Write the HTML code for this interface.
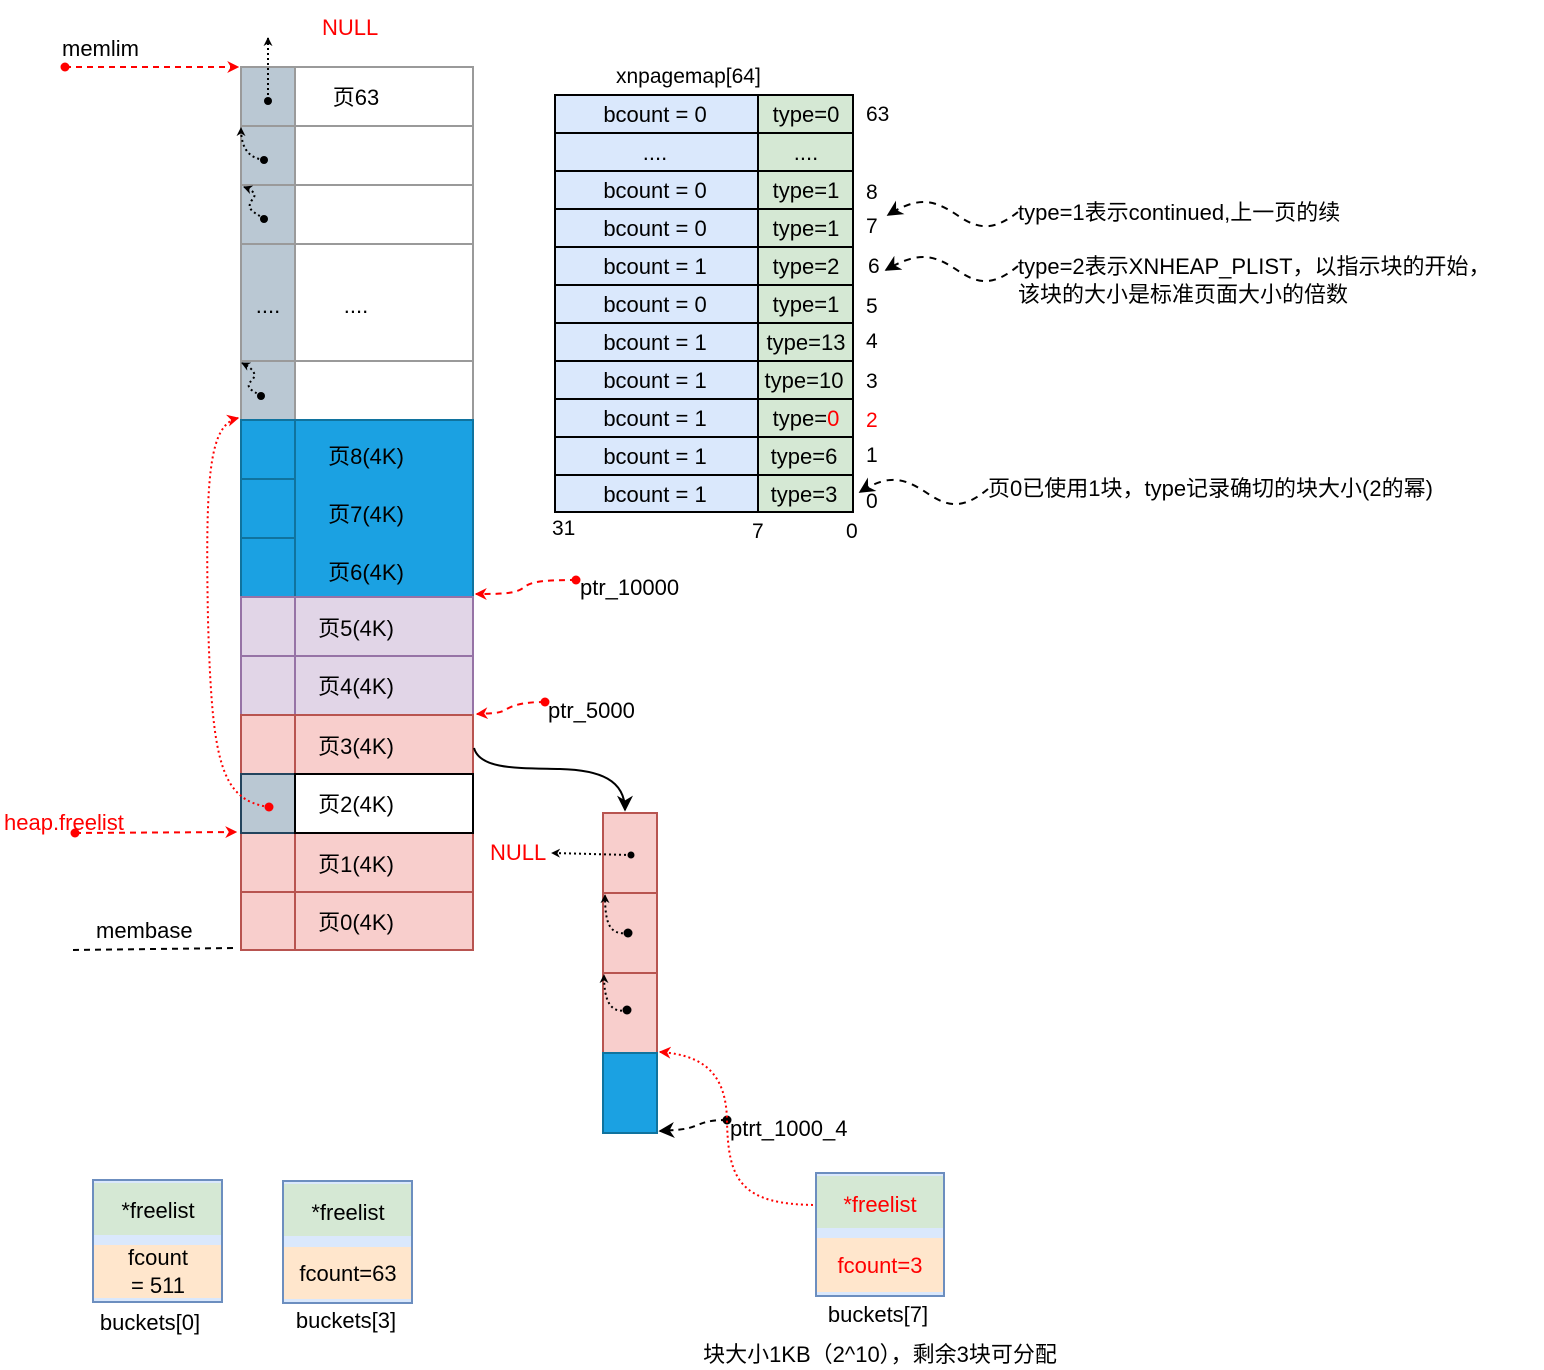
<!DOCTYPE html>
<html><head><meta charset="utf-8"><style>
html,body{margin:0;padding:0;background:#fff;}
svg{display:block;font-family:"Liberation Sans","Noto Sans CJK SC",sans-serif;}
</style></head><body>
<svg width="1544" height="1370" viewBox="0 0 1544 1370" xmlns="http://www.w3.org/2000/svg">
<defs>
<marker id="ab" viewBox="0 0 10 10" refX="9" refY="5" markerWidth="9" markerHeight="9" orient="auto-start-reverse" markerUnits="userSpaceOnUse"><path d="M0,0 L10,5 L0,10 L3,5 z" fill="#000"/></marker>
<marker id="ar" viewBox="0 0 10 10" refX="9" refY="5" markerWidth="12" markerHeight="12" orient="auto" markerUnits="userSpaceOnUse"><path d="M0,0 L10,5 L0,10 L3,5 z" fill="#f00"/></marker>
<marker id="abig" viewBox="0 0 10 10" refX="9" refY="5" markerWidth="16" markerHeight="16" orient="auto" markerUnits="userSpaceOnUse"><path d="M0,0 L10,5 L0,10 L3,5 z" fill="#000"/></marker>
</defs>

<!-- left memory column -->
<g stroke="#9a9a9a" stroke-width="2">
<rect x="241" y="67" width="54" height="353" fill="#bac8d3"/>
<rect x="295" y="67" width="178" height="59" fill="#fff"/>
<rect x="295" y="126" width="178" height="59" fill="#fff"/>
<rect x="295" y="185" width="178" height="59" fill="#fff"/>
<rect x="295" y="244" width="178" height="117" fill="#fff"/>
<rect x="295" y="361" width="178" height="59" fill="#fff"/>
<line x1="241" y1="126" x2="295" y2="126"/><line x1="241" y1="185" x2="295" y2="185"/>
<line x1="241" y1="244" x2="295" y2="244"/><line x1="241" y1="361" x2="295" y2="361"/>
</g>
<g stroke="#10739e" stroke-width="2" fill="#1ba1e2">
<rect x="241" y="420" width="232" height="177"/>
<rect x="241" y="420" width="54" height="59"/><rect x="241" y="479" width="54" height="59"/><rect x="241" y="538" width="54" height="59"/>
</g>
<g stroke="#9673a6" stroke-width="2" fill="#e1d5e7">
<rect x="241" y="597" width="54" height="59"/><rect x="295" y="597" width="178" height="59"/>
<rect x="241" y="656" width="54" height="59"/><rect x="295" y="656" width="178" height="59"/>
</g>
<g stroke="#b85450" stroke-width="2" fill="#f8cecc">
<rect x="241" y="715" width="54" height="59"/><rect x="295" y="715" width="178" height="59"/>
<rect x="241" y="833" width="54" height="59"/><rect x="295" y="833" width="178" height="59"/>
<rect x="241" y="892" width="54" height="58"/><rect x="295" y="892" width="178" height="58"/>
</g>
<rect x="241" y="774" width="54" height="59" fill="#bac8d3" stroke="#23445d" stroke-width="2"/>
<rect x="295" y="774" width="178" height="59" fill="#fff" stroke="#000" stroke-width="2"/>

<g font-size="22" fill="#000" text-anchor="middle">
<text x="356" y="105">页63</text>
<text x="268" y="313">....</text><text x="356" y="313">....</text>
<text x="366" y="464">页8(4K)</text><text x="366" y="522">页7(4K)</text><text x="366" y="580">页6(4K)</text>
<text x="356" y="636">页5(4K)</text><text x="356" y="694">页4(4K)</text><text x="356" y="754">页3(4K)</text>
<text x="356" y="812">页2(4K)</text><text x="356" y="872">页1(4K)</text><text x="356" y="930">页0(4K)</text>
</g>

<!-- dotted chain arrows in grey column -->
<g stroke="#000" stroke-width="2" stroke-dasharray="2 3" fill="none">
<path d="M268,100 L268,38" marker-end="url(#ab)"/>
<path d="M264,160 C250,158 241,150 241,128" marker-end="url(#ab)"/>
<path d="M264,219 C255,212 245,210 252,200 C258,194 252,190 244,187" marker-end="url(#ab)"/>
<path d="M261,396 C252,390 244,388 252,380 C258,374 252,368 242,363" marker-end="url(#ab)"/>
</g>
<g fill="#000"><circle cx="268" cy="101" r="4"/><circle cx="264" cy="160" r="4"/><circle cx="264" cy="219" r="4"/><circle cx="261" cy="396" r="4"/></g>
<text x="322" y="35" font-size="22" fill="#f00">NULL</text>

<!-- memlim -->
<text x="62" y="56" font-size="22">memlim</text>
<path d="M65,67 L238,67" stroke="#f00" stroke-width="2" stroke-dasharray="6 5" fill="none" marker-end="url(#ar)"/>
<circle cx="65" cy="67" r="4.5" fill="#f00"/>

<!-- heap.freelist -->
<text x="4" y="830" font-size="22" fill="#f00">heap.freelist</text>
<path d="M75,833 L236,832" stroke="#f00" stroke-width="2" stroke-dasharray="6 5" fill="none" marker-end="url(#ar)"/>
<circle cx="75" cy="833" r="4.5" fill="#f00"/>
<path d="M269,807 C220,800 212,760 208,620 C205,470 210,425 238,418" stroke="#f00" stroke-width="2" stroke-dasharray="2 3" fill="none" marker-end="url(#ar)"/>
<circle cx="269" cy="807" r="4.5" fill="#f00"/>

<!-- membase -->
<text x="96" y="938" font-size="22">membase</text>
<path d="M73,950 L236,948" stroke="#000" stroke-width="2" stroke-dasharray="6 5"/>

<!-- ptr arrows -->
<path d="M576,580 C540,580 530,582 523,588 C515,594 500,594 476,594" stroke="#f00" stroke-width="2" stroke-dasharray="6 5" fill="none" marker-end="url(#ar)"/>
<circle cx="576" cy="580" r="4.5" fill="#f00"/>
<text x="580" y="595" font-size="22">ptr_10000</text>
<path d="M545,702 C520,702 512,706 505,710 C498,714 490,713 477,714" stroke="#f00" stroke-width="2" stroke-dasharray="6 5" fill="none" marker-end="url(#ar)"/>
<circle cx="545" cy="702" r="4.5" fill="#f00"/>
<text x="548" y="718" font-size="22">ptr_5000</text>

<!-- curve from page3 to small column -->
<path d="M474,748 C480,770 520,768 560,769 C600,770 625,780 625,810" stroke="#000" stroke-width="2" fill="none" marker-end="url(#abig)"/>

<!-- small column -->
<g stroke="#b85450" stroke-width="2" fill="#f8cecc">
<rect x="603" y="813" width="54" height="80"/><rect x="603" y="893" width="54" height="80"/><rect x="603" y="973" width="54" height="80"/>
</g>
<rect x="603" y="1053" width="54" height="80" fill="#1ba1e2" stroke="#10739e" stroke-width="2"/>
<text x="490" y="860" font-size="22" fill="#f00">NULL</text>
<g stroke="#000" stroke-width="2" stroke-dasharray="2 3" fill="none">
<path d="M631,855 L552,853" marker-end="url(#ab)"/>
<path d="M628,933 C610,935 605,925 605,895" marker-end="url(#ab)"/>
<path d="M627,1010 C610,1014 604,1000 604,975" marker-end="url(#ab)"/>
</g>
<g fill="#000"><circle cx="631" cy="855" r="3.5"/><circle cx="628" cy="933" r="4.5"/><circle cx="627" cy="1010" r="4.5"/></g>
<path d="M727,1120 C710,1120 705,1122 695,1126 C685,1130 675,1130 660,1131" stroke="#000" stroke-width="2" stroke-dasharray="6 5" fill="none" marker-end="url(#abig)"/>
<circle cx="727" cy="1120" r="4.5" fill="#000"/>
<text x="730" y="1136" font-size="22">ptrt_1000_4</text>
<path d="M818,1205 C740,1205 728,1180 727,1120 C726,1075 705,1055 660,1052" stroke="#f00" stroke-width="2" stroke-dasharray="2 3" fill="none" marker-end="url(#ar)"/>
<circle cx="820" cy="1205" r="4.5" fill="#f00"/>

<!-- table -->
<text x="616" y="83" font-size="21">xnpagemap[64]</text>
<g stroke="#000" stroke-width="2">
<rect x="555" y="95" width="203" height="417" fill="#dae8fc"/>
<rect x="758" y="95" width="95" height="417" fill="#d5e8d4"/>
<line x1="555" y1="133" x2="853" y2="133"/><line x1="555" y1="171" x2="853" y2="171"/>
<line x1="555" y1="209" x2="853" y2="209"/><line x1="555" y1="247" x2="853" y2="247"/>
<line x1="555" y1="285" x2="853" y2="285"/><line x1="555" y1="323" x2="853" y2="323"/>
<line x1="555" y1="361" x2="853" y2="361"/><line x1="555" y1="399" x2="853" y2="399"/>
<line x1="555" y1="437" x2="853" y2="437"/><line x1="555" y1="475" x2="853" y2="475"/>
</g>
<g font-size="22" text-anchor="middle">
<text x="655" y="122">bcount = 0</text><text x="806" y="122">type=0</text>
<text x="655" y="160">....</text><text x="806" y="160">....</text>
<text x="655" y="198">bcount = 0</text><text x="806" y="198">type=1</text>
<text x="655" y="236">bcount = 0</text><text x="806" y="236">type=1</text>
<text x="655" y="274">bcount = 1</text><text x="806" y="274">type=2</text>
<text x="655" y="312">bcount = 0</text><text x="806" y="312">type=1</text>
<text x="655" y="350">bcount = 1</text><text x="806" y="350">type=13</text>
<text x="655" y="388">bcount = 1</text><text x="804" y="388">type=10</text>
<text x="655" y="426">bcount = 1</text><text x="806" y="426">type=<tspan fill="#f00">0</tspan></text>
<text x="655" y="464">bcount = 1</text><text x="804" y="464">type=6</text>
<text x="655" y="502">bcount = 1</text><text x="804" y="502">type=3</text>
</g>
<g font-size="21">
<text x="866" y="121">63</text><text x="866" y="199">8</text><text x="866" y="233">7</text>
<text x="868" y="273">6</text><text x="866" y="313">5</text><text x="866" y="348">4</text>
<text x="866" y="388">3</text><text x="866" y="427" fill="#f00">2</text><text x="866" y="462">1</text>
<text x="866" y="508">0</text>
<text x="552" y="535">31</text><text x="752" y="538">7</text><text x="846" y="538">0</text>
</g>
<g stroke="#000" stroke-width="2" stroke-dasharray="7 6" fill="none">
<path d="M1018,212 C995,230 980,230 960,217 C935,200 920,195 888,215" marker-end="url(#abig)"/>
<path d="M1018,266 C995,285 980,285 960,272 C935,255 920,250 886,270" marker-end="url(#abig)"/>
<path d="M988,489 C965,508 950,508 930,495 C905,478 890,473 860,492" marker-end="url(#abig)"/>
</g>
<g font-size="22">
<text x="1018" y="220">type=1表示continued,上一页的续</text>
<text x="1018" y="274">type=2表示XNHEAP_PLIST，以指示块的开始，</text>
<text x="1018" y="302">该块的大小是标准页面大小的倍数</text>
<text x="988" y="496">页0已使用1块，type记录确切的块大小(2的幂)</text>
</g>

<!-- buckets -->
<g stroke="#6c8ebf" stroke-width="2">
<rect x="93" y="1180" width="129" height="122" fill="#dae8fc"/>
<rect x="283" y="1181" width="129" height="122" fill="#dae8fc"/>
<rect x="816" y="1173" width="128" height="123" fill="#dae8fc"/>
</g>
<rect x="94" y="1183" width="127" height="52" fill="#d5e8d4"/>
<rect x="94" y="1245" width="127" height="53" fill="#ffe6cc"/>
<rect x="284" y="1184" width="127" height="52" fill="#d5e8d4"/>
<rect x="284" y="1247" width="127" height="52" fill="#ffe6cc"/>
<rect x="817" y="1176" width="126" height="52" fill="#d5e8d4"/>
<rect x="817" y="1238" width="126" height="54" fill="#ffe6cc"/>
<g font-size="22" text-anchor="middle">
<text x="158" y="1218">*freelist</text><text x="158" y="1265">fcount</text><text x="158" y="1293">= 511</text>
<text x="348" y="1220">*freelist</text><text x="348" y="1281">fcount=63</text>
<text x="880" y="1212" fill="#f00">*freelist</text><text x="880" y="1273" fill="#f00">fcount=3</text>
<text x="150" y="1330">buckets[0]</text><text x="346" y="1328">buckets[3]</text><text x="878" y="1322">buckets[7]</text>
<text x="880" y="1362">块大小1KB（2^10），剩余3块可分配</text>
</g>
</svg>
</body></html>
